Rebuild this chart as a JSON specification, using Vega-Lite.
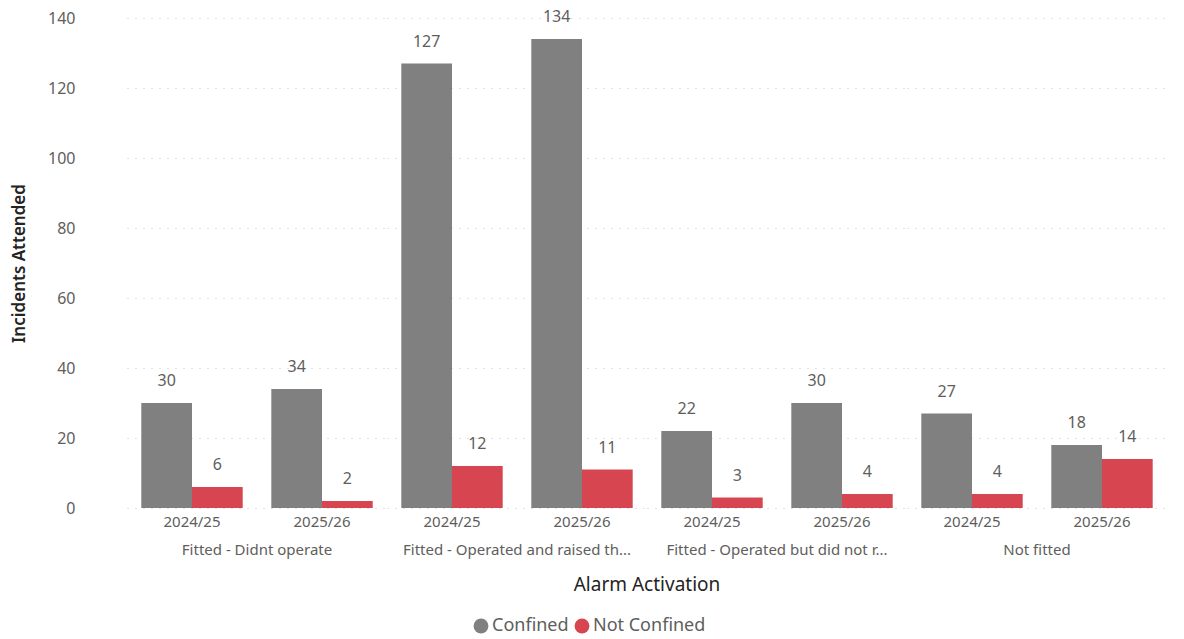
{
  "$schema": "https://vega.github.io/schema/vega-lite/v6.json",
  "padding": {"left": 10, "top": 8, "right": 17, "bottom": 2},
  "config": {
    "font": "Segoe UI, Noto Sans, sans-serif",
    "view": {"stroke": null},
    "axis": {"labelFont": "Segoe UI, Noto Sans, sans-serif", "titleFont": "Segoe UI, Noto Sans, sans-serif"},
    "legend": {"layout": {"bottom": {"anchor": "middle"}}}
  },
  "data": {
    "values": [
      {"activation": "Fitted - Didnt operate", "year": "2024/25", "status": "Confined", "incidents": 30},
      {"activation": "Fitted - Didnt operate", "year": "2024/25", "status": "Not Confined", "incidents": 6},
      {"activation": "Fitted - Didnt operate", "year": "2025/26", "status": "Confined", "incidents": 34},
      {"activation": "Fitted - Didnt operate", "year": "2025/26", "status": "Not Confined", "incidents": 2},
      {"activation": "Fitted - Operated and raised th...", "year": "2024/25", "status": "Confined", "incidents": 127},
      {"activation": "Fitted - Operated and raised th...", "year": "2024/25", "status": "Not Confined", "incidents": 12},
      {"activation": "Fitted - Operated and raised th...", "year": "2025/26", "status": "Confined", "incidents": 134},
      {"activation": "Fitted - Operated and raised th...", "year": "2025/26", "status": "Not Confined", "incidents": 11},
      {"activation": "Fitted - Operated but did not r...", "year": "2024/25", "status": "Confined", "incidents": 22},
      {"activation": "Fitted - Operated but did not r...", "year": "2024/25", "status": "Not Confined", "incidents": 3},
      {"activation": "Fitted - Operated but did not r...", "year": "2025/26", "status": "Confined", "incidents": 30},
      {"activation": "Fitted - Operated but did not r...", "year": "2025/26", "status": "Not Confined", "incidents": 4},
      {"activation": "Not fitted", "year": "2024/25", "status": "Confined", "incidents": 27},
      {"activation": "Not fitted", "year": "2024/25", "status": "Not Confined", "incidents": 4},
      {"activation": "Not fitted", "year": "2025/26", "status": "Confined", "incidents": 18},
      {"activation": "Not fitted", "year": "2025/26", "status": "Not Confined", "incidents": 14}
    ]
  },
  "facet": {
    "column": {
      "field": "activation",
      "type": "nominal",
      "sort": ["Fitted - Didnt operate", "Fitted - Operated and raised th...", "Fitted - Operated but did not r...", "Not fitted"],
      "header": {
        "labelOrient": "bottom",
        "titleOrient": "bottom",
        "title": "Alarm Activation",
        "labelFontSize": 15,
        "labelColor": "#605E5C",
        "labelPadding": 14,
        "labelLimit": 400,
        "titleFontSize": 19,
        "titleColor": "#252423",
        "titleFontWeight": "normal",
        "titlePadding": 8
      }
    }
  },
  "spacing": 0,
  "spec": {
    "width": 260,
    "height": 490,
    "encoding": {
      "x": {
        "field": "year",
        "type": "nominal",
        "title": null,
        "scale": {"paddingInner": 0.22, "paddingOuter": 0.11},
        "axis": {
          "labelAngle": 0,
          "labelFontSize": 15,
          "labelColor": "#605E5C",
          "labelPadding": 6,
          "ticks": false,
          "domain": false
        }
      },
      "xOffset": {"field": "status", "type": "nominal", "sort": ["Confined", "Not Confined"]},
      "y": {
        "field": "incidents",
        "type": "quantitative",
        "title": "Incidents Attended",
        "scale": {"domain": [0, 140]},
        "axis": {
          "values": [0, 20, 40, 60, 80, 100, 120, 140],
          "labelFontSize": 16,
          "labelColor": "#605E5C",
          "labelPadding": 52,
          "ticks": false,
          "domain": false,
          "grid": true,
          "gridColor": "#C8C6C4",
          "gridDash": [1, 7],
          "gridWidth": 1,
          "titleFontSize": 17,
          "titleColor": "#252423",
          "titleFontWeight": 600,
          "titlePadding": 19
        }
      }
    },
    "layer": [
      {
        "mark": {"type": "bar"},
        "encoding": {
          "color": {
            "field": "status",
            "type": "nominal",
            "title": null,
            "scale": {"domain": ["Confined", "Not Confined"], "range": ["#808080", "#D64550"]},
            "legend": {
              "orient": "bottom",
              "direction": "horizontal",
              "symbolType": "circle",
              "symbolSize": 220,
              "symbolOpacity": 1,
              "labelFontSize": 18,
              "labelColor": "#605E5C",
              "columnPadding": 4,
              "labelOffset": 2,
              "offset": 22
            }
          }
        }
      },
      {
        "mark": {"type": "text", "baseline": "bottom", "dy": -14, "fontSize": 16, "color": "#605E5C"},
        "encoding": {
          "text": {"field": "incidents", "type": "quantitative"}
        }
      }
    ]
  }
}
